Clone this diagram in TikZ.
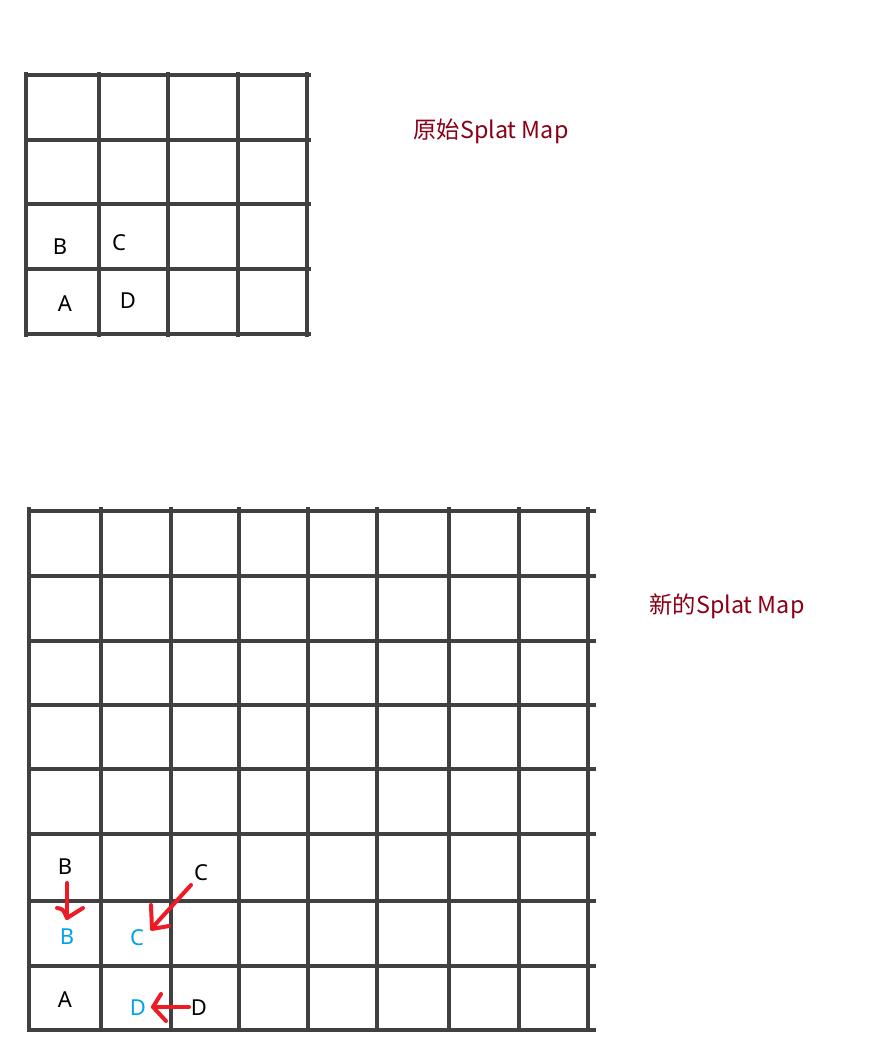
\documentclass[tikz,border=0pt]{standalone}
\usepackage{fontspec}
\newfontfamily\cjk{Noto Sans CJK SC}
\newfontfamily\lat{Noto Sans}
\definecolor{titlered}{RGB}{139,0,22}
\definecolor{penred}{RGB}{237,28,36}
\definecolor{letblue}{RGB}{0,162,232}
\tikzset{
  gridline/.style={draw=black!75,line width=3pt},
  title/.style={font=\cjk\fontsize{17.5}{20}\selectfont,text=titlered,inner sep=0pt},
  let/.style={font=\lat\fontsize{16.5}{19}\selectfont,inner sep=0pt},
  newlet/.style={let,text=letblue},
  pen/.style={draw=penred,line width=3pt,line cap=round,line join=round}
}
\begin{document}
\begin{tikzpicture}[x=0.75pt,y=-0.75pt]
\useasboundingbox (0,0) rectangle (872,1046);
\fill[white] (0,0) rectangle (872,1046);
% top grid
\foreach \y in {75,140,204,269,334}{\draw[gridline] (24,\y) -- (311,\y);}
\foreach \x in {26,99,168,238,307}{\draw[gridline] (\x,72) -- (\x,337);}
% bottom grid
\foreach \y in {511,576,641,705,769,834,901,966,1030}{\draw[gridline] (27,\y) -- (596,\y);}
\foreach \x in {29,101,171,239,308,377,449,519,588}{\draw[gridline] (\x,507) -- (\x,1032);}
% titles
\node[title] (t1) at (491,131) {原始Splat Map};
\node[title] (t2) at (727,606) {新的Splat Map};
% top letters
\node[let] (oB) at (60,247) {B};
\node[let] (oC) at (119,243) {C};
\node[let] (oA) at (65,304) {A};
\node[let] (oD) at (128,301) {D};
% bottom letters
\node[let] (bB) at (65,867) {B};
\node[newlet] (nB) at (67,937) {B};
\node[let] (bC) at (201,873) {C};
\node[newlet] (nC) at (137,938) {C};
\node[let] (bA) at (65,1000) {A};
\node[newlet] (nD) at (138,1008) {D};
\node[let] (bD) at (199,1008) {D};
% arrows
\coordinate (bs) at (67,883); \coordinate (be) at (67,918);
\draw[pen] (bs) -- (be);
\draw[pen] (57,908) .. controls (63,909) .. (be) -- (83,908);
\coordinate (cs) at (191,885); \coordinate (ce) at (152,928);
\draw[pen] (cs) -- (ce);
\draw[pen] (151,905) -- (152,929) -- (169,926);
\coordinate (ds) at (189,1007); \coordinate (de) at (153,1007);
\draw[pen] (ds) -- (de);
\draw[pen] (161,994) .. controls (157,1000) .. (de) .. controls (160,1014) .. (166,1021);
\end{tikzpicture}
\end{document}
